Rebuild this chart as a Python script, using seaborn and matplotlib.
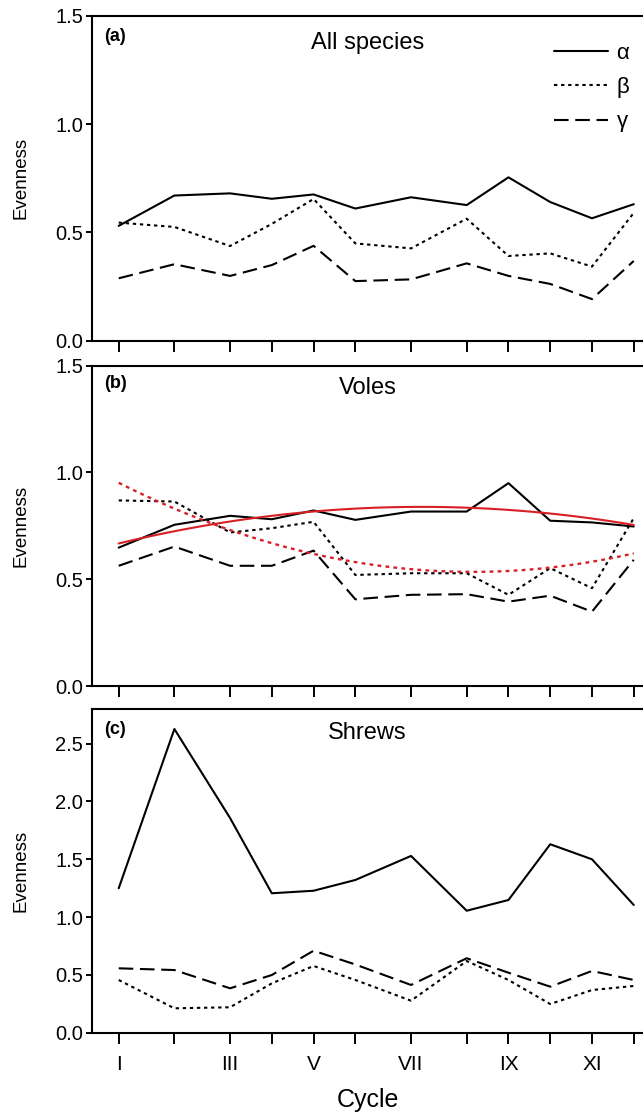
import numpy as np
import pandas as pd
import matplotlib
matplotlib.use("Agg")
import matplotlib.pyplot as plt
import seaborn as sns

# ---------------- data ----------------
cycle_time = [0, 4, 8, 11, 14, 17, 21, 25, 28, 31, 34, 37]
cycle_labels = ["I", "II", "III", "IV", "V", "VI", "VII", "VIII", "IX", "X", "XI", "XII"]
labelled_cycles = ["I", "III", "V", "VII", "IX", "XI"]

alpha_all = [0.53, 0.67, 0.68, 0.655, 0.675, 0.61, 0.662, 0.626, 0.754, 0.64, 0.565, 0.63]
beta_all = [0.545, 0.525, 0.437, 0.539, 0.654, 0.449, 0.426, 0.563, 0.391, 0.403, 0.342, 0.59]
gamma_all = [0.288, 0.353, 0.299, 0.349, 0.438, 0.275, 0.283, 0.357, 0.299, 0.262, 0.192, 0.368]

alpha_voles = [0.648, 0.755, 0.797, 0.781, 0.822, 0.778, 0.817, 0.817, 0.950, 0.774, 0.766, 0.747]
beta_voles = [0.869, 0.864, 0.719, 0.739, 0.769, 0.520, 0.528, 0.528, 0.427, 0.552, 0.458, 0.786]
gamma_voles = [0.563, 0.653, 0.563, 0.563, 0.634, 0.406, 0.427, 0.430, 0.395, 0.423, 0.348, 0.591]

alpha_shrews = [1.249, 2.627, 1.857, 1.206, 1.228, 1.321, 1.529, 1.055, 1.148, 1.630, 1.500, 1.105]
beta_shrews = [0.456, 0.211, 0.220, 0.427, 0.577, 0.456, 0.277, 0.620, 0.456, 0.248, 0.369, 0.404]
gamma_shrews = [0.557, 0.542, 0.384, 0.499, 0.709, 0.590, 0.413, 0.644, 0.519, 0.398, 0.534, 0.456]

panel_tags = ["(a)", "(b)", "(c)"]
panel_titles = ["All species", "Voles", "Shrews"]
series_names = ["\u03b1", "\u03b2", "\u03b3"]

# ---------------- style ----------------
sns.set_theme(style="ticks")
plt.rcParams["font.family"] = ["Liberation Sans", "DejaVu Sans"]
for k in ["text.color", "axes.labelcolor", "xtick.color", "ytick.color", "axes.edgecolor"]:
    plt.rcParams[k] = "black"
plt.rcParams["axes.linewidth"] = 1.5

fig = plt.figure(figsize=(6.43, 11.14), dpi=100)
W, H = 643.0, 1114.0
left_px = 92.3
t0_px, unit_px = 118.7, 13.92
xmin = (left_px - t0_px) / unit_px
xmax = (W - t0_px) / unit_px
axw_px = W - left_px

panel_px = [(15.7, 340.7), (365.7, 686.0), (709.0, 1032.7)]
ylims = [(0, 1.5), (0, 1.5), (0, 2.8)]
yticks = [[0, 0.5, 1.0, 1.5], [0, 0.5, 1.0, 1.5], [0, 0.5, 1.0, 1.5, 2.0, 2.5]]
data = [
    (alpha_all, beta_all, gamma_all),
    (alpha_voles, beta_voles, gamma_voles),
    (alpha_shrews, beta_shrews, gamma_shrews),
]
styles = ["-", (0, (1.6, 1.8)), (0, (7, 3.2))]
red = "#d91f26"

for i, (top, bot) in enumerate(panel_px):
    ax = fig.add_axes([left_px / W, 1 - bot / H, 1 - left_px / W, (bot - top) / H])
    hpx = bot - top
    for vals, ls, name in zip(data[i], styles, series_names):
        df = pd.DataFrame({"t": cycle_time, "v": vals})
        sns.lineplot(data=df, x="t", y="v", ax=ax, color="black", lw=1.5,
                     linestyle=ls, label=name if i == 0 else None)
    if i == 1:
        dfa = pd.DataFrame({"t": cycle_time, "v": alpha_voles})
        dfb = pd.DataFrame({"t": cycle_time, "v": beta_voles})
        sns.regplot(data=dfa, x="t", y="v", order=2, ci=None, scatter=False, ax=ax,
                    color=red, line_kws=dict(lw=1.5, linestyle="-"))
        sns.regplot(data=dfb, x="t", y="v", order=2, ci=None, scatter=False, ax=ax,
                    color=red, line_kws=dict(lw=1.7, linestyle=(0, (1.6, 1.8))))
    ax.set_xlim(xmin, xmax)
    ax.set_ylim(*ylims[i])
    ax.set_yticks(yticks[i])
    ax.set_yticklabels([f"{v:.1f}" for v in yticks[i]], fontsize=14.5)
    ax.set_xticks(cycle_time)
    if i == 2:
        ax.set_xticklabels([c if c in labelled_cycles else "" for c in cycle_labels], fontsize=15)
        ax.set_xlabel("Cycle", fontsize=18, labelpad=10)
    else:
        ax.set_xticklabels([])
        ax.set_xlabel("")
    ax.set_ylabel("Evenness", fontsize=13.5)
    ax.yaxis.set_label_coords((29 - left_px) / axw_px, 0.5)
    ax.tick_params(axis="x", direction="out", length=8, width=1.4, pad=8)
    ax.tick_params(axis="y", direction="out", length=4.5, width=1.4, pad=2)
    for s in ["left", "bottom", "top"]:
        ax.spines[s].set_visible(True)
        ax.spines[s].set_linewidth(1.5)
        ax.spines[s].set_color("black")
    ax.spines["right"].set_visible(False)
    ax.set_facecolor("white")
    tag_y = [36.7, 384.0, 730.0][i]
    ax.text(0.021, 1 - (tag_y - top) / hpx, panel_tags[i], transform=ax.transAxes,
            fontsize=13, fontweight="bold", va="center", ha="left")
    title_y = [43.0, 388.0, 733.0][i]
    ax.text(0.5, 1 - (title_y - top) / hpx, panel_titles[i], transform=ax.transAxes,
            fontsize=17, va="center", ha="center")
    if i == 0:
        ax.legend(loc="upper right", bbox_to_anchor=(0.975, 1 - 27 / hpx), frameon=False,
                  fontsize=16, handlelength=2.4, labelspacing=0.6, handletextpad=0.4,
                  borderaxespad=0, borderpad=0)
    else:
        if ax.get_legend() is not None:
            ax.get_legend().remove()

fig.savefig("out.png", dpi=100, facecolor="white")
